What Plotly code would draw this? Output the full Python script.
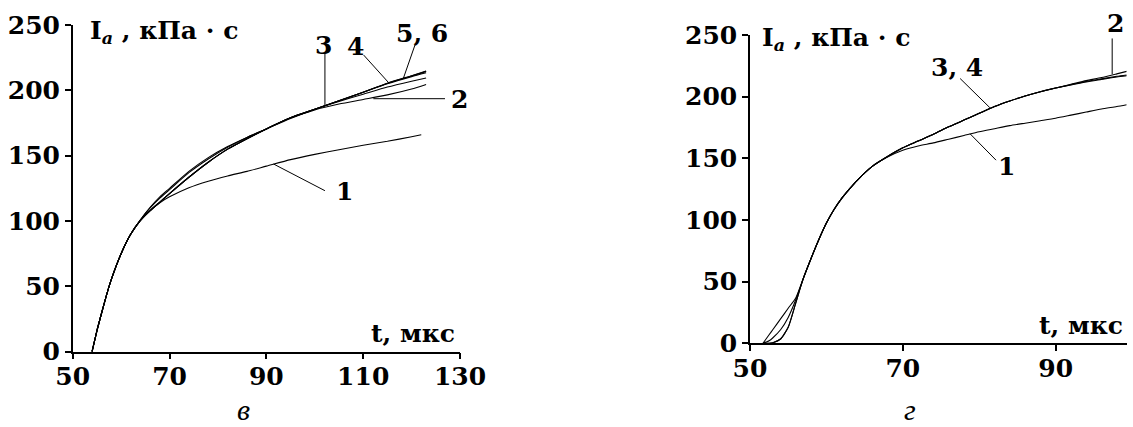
import plotly.graph_objects as go

W, H = 1133, 427

# ---- panel "в" : impulse I_a (kPa·s) versus time t (µs) ----
t_v = [54, 55, 56, 57, 58, 60, 62, 64, 66, 68, 70, 74, 78, 82, 86, 90, 95, 100, 105, 110, 115, 120, 123]
t_v1 = [54, 55, 56, 57, 58, 60, 62, 64, 66, 68, 70, 74, 78, 82, 86, 90, 95, 100, 105, 110, 115, 120, 122]
i_v1 = [0, 16, 30, 43.5, 55.5, 75, 90, 100.5, 108, 114, 118.5, 125.5, 130.5, 134.5, 138, 142, 147, 151, 154.5, 158, 161, 164.5, 166]
i_v2 = [0, 16, 30, 43.5, 55.5, 75, 90, 101, 110.5, 118.5, 125, 138, 148.5, 157, 164, 170.5, 178.5, 185, 189.5, 193, 196.5, 201, 204.5]
i_v3 = [0, 16, 30, 43.5, 55.5, 75, 90, 101, 110, 117.5, 124, 137, 147.5, 156.5, 164, 170.5, 179, 185.5, 191.5, 197, 202.5, 207, 209.5]
i_v4 = [0, 16, 30, 43.5, 55.5, 75, 90, 100.5, 108, 114.5, 121, 133.5, 145, 155, 163, 170.5, 179, 185.5, 192, 198.5, 205, 210.5, 213.5]
i_v5 = [0, 16, 30, 43.5, 55.5, 75, 90, 100.5, 108, 114.5, 121, 133.5, 145, 155, 163, 170.5, 179, 185.5, 192, 198.5, 205.5, 211, 214.5]
i_v6 = [0, 16, 30, 43.5, 55.5, 75, 90, 100.5, 108, 114.5, 121, 133.5, 145, 155, 163, 170.5, 179, 185.5, 192, 198.5, 205.5, 211.2, 214.7]

# ---- panel "г" ----
t_g = [51.7, 52.5, 53, 54, 55, 56, 57, 58, 59, 60, 61, 62, 63, 64, 66, 68, 70, 72, 74, 76, 78, 80,
       82, 84, 86, 88, 90, 92, 94, 96, 98, 99.3]
i_g1 = [0, 6.9, 11.2, 19.8, 28.4, 37, 53, 69, 84, 97.5, 108.5, 117.5, 125, 132, 143.5, 151, 156.5,
        160, 162.5, 165.5, 168.5, 171.5, 174, 176.5, 178.5, 180.5, 182.5, 185, 187.5, 190, 192, 193.5]
i_g2 = [0, 2, 4.5, 11, 21, 35.5, 53, 69, 84, 97.5, 108.5, 117.5, 125, 132, 143.5, 151.5, 158.5,
        164, 169.5, 175.5, 181, 186.5, 192, 196.5, 200.5, 204, 207, 210, 213, 215.5, 218.5, 220.5]
i_g3 = [0, 0, 0.5, 3.5, 13, 33, 53, 69, 84, 97.5, 108.5, 117.5, 125, 132, 143.5, 151.5, 158.5,
        164, 169.5, 175.5, 181, 186.5, 192, 196.5, 200.5, 204, 207, 209.5, 212, 214, 216, 217]
i_g4 = [0, 0, 0.5, 3.5, 13, 33, 53, 69, 84, 97.5, 108.5, 117.5, 125, 132, 143.5, 151.5, 158.5,
        164, 169.5, 175.5, 181, 186.5, 192, 196.5, 200.5, 204, 207, 209.7, 212.3, 214.4, 216.5, 217.6]

x_ticks_v = [50, 70, 90, 110, 130]
x_ticks_g = [50, 70, 90]
y_ticks = [0, 50, 100, 150, 200, 250]

SERIF = "DejaVu Serif"
INK = "black"


def px(x):
    return x / W


def py(y):
    return 1 - y / H


fig = go.Figure()

for tt, vals in [(t_v1, i_v1), (t_v, i_v2), (t_v, i_v3), (t_v, i_v4), (t_v, i_v5), (t_v, i_v6)]:
    fig.add_trace(go.Scatter(x=tt, y=vals, mode="lines", xaxis="x", yaxis="y",
                             line=dict(color=INK, width=1.1, shape="spline", smoothing=0.6),
                             showlegend=False, hoverinfo="skip"))

for vals in [i_g1, i_g2, i_g3, i_g4]:
    fig.add_trace(go.Scatter(x=t_g, y=vals, mode="lines", xaxis="x2", yaxis="y2",
                             line=dict(color=INK, width=1.1, shape="spline", smoothing=0.6),
                             showlegend=False, hoverinfo="skip"))

tickfont = dict(family=SERIF, size=25, color=INK, weight="bold")
axis_common = dict(showline=True, linecolor=INK, linewidth=1.5, ticks="outside", ticklen=6,
                   tickwidth=1.5, tickcolor=INK, showgrid=False, zeroline=False,
                   tickfont=tickfont, fixedrange=True, automargin=False)

fig.update_layout(
    width=W, height=H, margin=dict(l=0, r=0, t=0, b=0, pad=0),
    paper_bgcolor="white", plot_bgcolor="white",
    xaxis=dict(domain=[px(72.7), px(460)], range=[50, 130], tickvals=x_ticks_v,
               anchor="y", ticklabelstandoff=-4, **axis_common),
    yaxis=dict(domain=[py(351.7), py(25)], range=[0, 250], tickvals=y_ticks,
               anchor="x", **axis_common),
    xaxis2=dict(domain=[px(750), px(1126.7)], range=[50, 99.3], tickvals=x_ticks_g,
                anchor="y2", ticklabelstandoff=-4, **axis_common),
    yaxis2=dict(domain=[py(343.3), py(35)], range=[0, 250], tickvals=y_ticks,
                anchor="x2", **axis_common),
)

label_font = dict(family=SERIF, size=25, color=INK, weight="bold")
title_text = "I<sub><i>a</i></sub> , кПа · с"
letter_font = dict(family="Liberation Serif", size=30, color=INK)

annotations = [
    # axis titles
    dict(x=px(88), y=py(31.7), text=title_text, xanchor="left", font=label_font),
    dict(x=px(457), y=py(333), text="t, мкс", xanchor="right", font=label_font),
    dict(x=px(760), y=py(39), text=title_text, xanchor="left", font=label_font),
    dict(x=px(1125), y=py(325), text="t, мкс", xanchor="right", font=label_font),
]

# curve numbers (pixel positions on the page) and their leader lines (data coordinates)
curve_labels = [("3", 323.3, 45), ("4", 355, 46.7), ("5, 6", 421.7, 33.3),
                ("2", 459, 99), ("1", 344, 191.7),
                ("2", 1115.7, 23.3), ("3, 4", 957.3, 67.3), ("1", 1006.7, 166.7)]
leaders_v = [(102.1, 228, 102.1, 188.7), (110.1, 227, 115.2, 206.1),
             (120.7, 234.7, 118.3, 209.2), (112.1, 193.6, 126.9, 193.6),
             (91.5, 143.6, 102.1, 123.2)]
leaders_g = [(97.4, 247.2, 97.4, 218.2), (77.5, 214.7, 81.4, 191.0),
             (78.8, 169.9, 82.2, 148.5)]

for txt, xx, yy in curve_labels:
    annotations.append(dict(x=px(xx), y=py(yy), text=txt, xanchor="center", font=label_font))

for a in annotations:
    a.update(xref="paper", yref="paper", yanchor="middle", showarrow=False)

# panel letters, sitting on the bottom edge of the page
for txt, xx in [("<i>в</i>", 243), ("<i>г</i>", 910)]:
    annotations.append(dict(x=px(xx), y=0, xref="paper", yref="paper", text=txt,
                            xanchor="center", yanchor="bottom", showarrow=False,
                            borderpad=0, font=letter_font))

shapes = []
for x0, y0, x1, y1 in leaders_v:
    shapes.append(dict(type="line", xref="x", yref="y", x0=x0, y0=y0, x1=x1, y1=y1,
                       line=dict(color=INK, width=1)))
for x0, y0, x1, y1 in leaders_g:
    shapes.append(dict(type="line", xref="x2", yref="y2", x0=x0, y0=y0, x1=x1, y1=y1,
                       line=dict(color=INK, width=1)))

fig.update_layout(annotations=annotations, shapes=shapes)
fig.write_html("out.html")
